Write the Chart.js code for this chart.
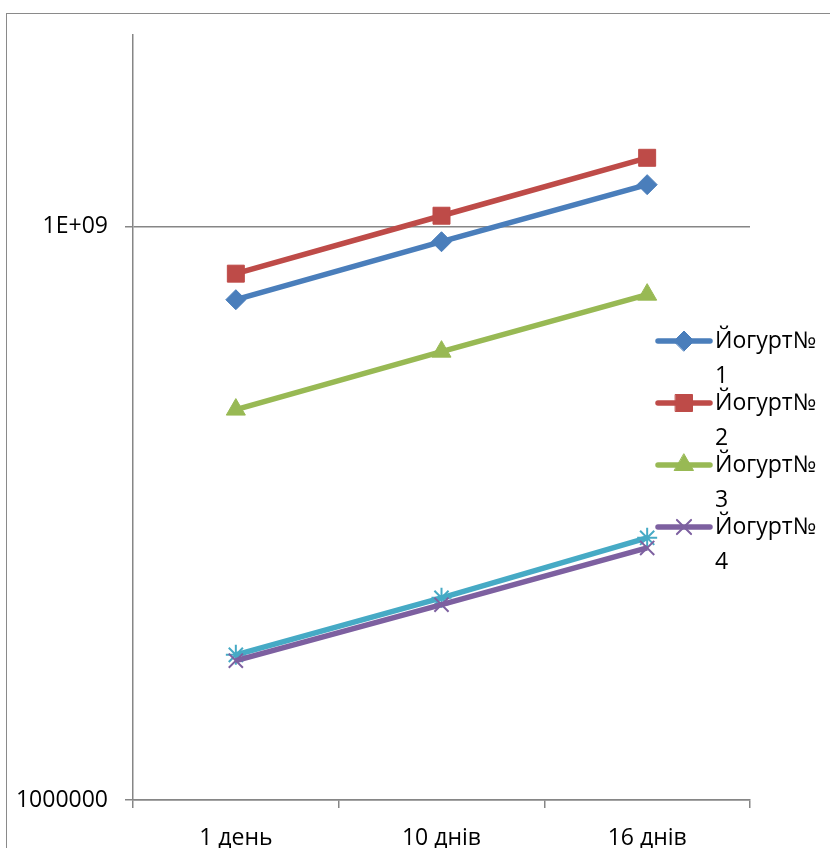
<!DOCTYPE html>
<html>
<head>
<meta charset="utf-8">
<script src="https://cdn.jsdelivr.net/npm/chart.js@4/dist/chart.umd.min.js"></script>
<style>
  html, body { margin: 0; padding: 0; background: #fff; overflow: hidden; }
  #rama { position: absolute; left: 6px; top: 13px; width: 900px; height: 900px; border: 1px solid #8a8a8a; }
  #grafiek { position: absolute; left: 0; top: 0; }
</style>
</head>
<body>
<div id="rama"></div>
<canvas id="grafiek" width="830" height="848"></canvas>
<script>
// days on the x axis
var dni = ['1 день', '10 днів', '16 днів'];

// series names (legend wraps the number on a second line)
var nazvy = ['Йогурт№ 1', 'Йогурт№ 2', 'Йогурт№ 3', 'Йогурт№ 4', 'Йогурт№ 5'];

var jogurt1 = [4.13e8, 8.3e8, 1.65e9];
var jogurt2 = [5.65e8, 1.135e9, 2.28e9];
var jogurt3 = [1.10e8, 2.21e8, 4.39e8];
var jogurt4 = [5.35e6, 1.05e7, 2.08e7];
var jogurt5 = [5.74e6, 1.14e7, 2.35e7];

// only these two values get a label on the y axis
var yTicks = [1e6, 1e9];

var shrift = "'Open Sans', 'DejaVu Sans', sans-serif";
var siryj = '#868686';

function seria(naz, dani, kolir, styl, radius, tovshch) {
  return {
    label: naz,
    data: dani,
    borderColor: kolir,
    backgroundColor: kolir,
    borderWidth: 5.5,
    pointStyle: styl,
    pointRadius: radius,
    pointBackgroundColor: kolir,
    pointBorderColor: kolir,
    pointBorderWidth: tovshch,
    tension: 0
  };
}

// legend on the right; the box is too short so the 5th entry is not shown
var bichnaLegenda = {
  id: 'bichnaLegenda',
  afterDraw: function(chart) {
    var ctx = chart.ctx;
    ctx.save();
    chart.data.datasets.forEach(function(ds, i) {
      if (i > 3) return;
      var y = 341 + i * 62;
      ctx.strokeStyle = ds.borderColor;
      ctx.lineWidth = 5.5;
      ctx.lineCap = 'round';
      ctx.beginPath();
      ctx.moveTo(658, y);
      ctx.lineTo(710, y);
      ctx.stroke();
      ctx.fillStyle = ds.pointBackgroundColor;
      ctx.strokeStyle = ds.pointBorderColor;
      ctx.lineWidth = ds.pointBorderWidth;
      Chart.helpers.drawPoint(ctx, {
        pointStyle: ds.pointStyle,
        rotation: 0,
        radius: ds.pointRadius,
        borderWidth: ds.pointBorderWidth
      }, 684, y);
      var chastyny = ds.label.split(' ');
      ctx.fillStyle = '#000';
      ctx.font = '23px ' + shrift;
      ctx.textAlign = 'left';
      ctx.textBaseline = 'middle';
      ctx.fillText(chastyny[0], 715, y);
      ctx.fillText(chastyny[1], 715, y + 35);
    });
    ctx.restore();
  }
};

var grafiekCtx = document.getElementById('grafiek').getContext('2d');
var grafiek = new Chart(grafiekCtx, {
  type: 'line',
  data: {
    labels: dni,
    datasets: [
      seria(nazvy[0], jogurt1, '#4A7EBB', 'rectRot', 10, 1),
      seria(nazvy[1], jogurt2, '#BE4B48', 'rect', 12, 1),
      seria(nazvy[2], jogurt3, '#98B954', 'triangle', 11, 1),
      seria(nazvy[3], jogurt4, '#7D60A0', 'crossRot', 10, 2),
      seria(nazvy[4], jogurt5, '#46AAC5', 'star', 10, 2)
    ]
  },
  options: {
    responsive: false,
    animation: false,
    layout: { padding: { top: 35, right: 80, left: 0, bottom: 0 } },
    plugins: {
      legend: { display: false },
      tooltip: { enabled: false }
    },
    scales: {
      x: {
        offset: true,
        grid: { offset: true, drawOnChartArea: false, drawTicks: true, tickLength: 8, color: siryj, lineWidth: 1.5 },
        border: { color: siryj, width: 1.5 },
        ticks: { color: '#000', font: { family: shrift, size: 23 }, padding: 17, maxRotation: 0 },
        afterFit: function(s) { s.height = 48; }
      },
      y: {
        type: 'logarithmic',
        min: 1e6,
        max: 1e10,
        afterBuildTicks: function(s) {
          s.ticks = yTicks.map(function(v) { return { value: v }; });
        },
        grid: { drawTicks: true, tickLength: 8, color: siryj, lineWidth: 1.5 },
        border: { color: siryj, width: 1.5 },
        ticks: {
          color: '#000',
          font: { family: shrift, size: 23 },
          padding: 17,
          callback: function(v) {
            if (v >= 1e7) {
              return v.toExponential(0).toUpperCase().replace(/E\+(\d)$/, 'E+0$1');
            }
            return String(v);
          }
        },
        afterFit: function(s) { s.width = 133; }
      }
    }
  },
  plugins: [bichnaLegenda]
});
</script>
</body>
</html>
